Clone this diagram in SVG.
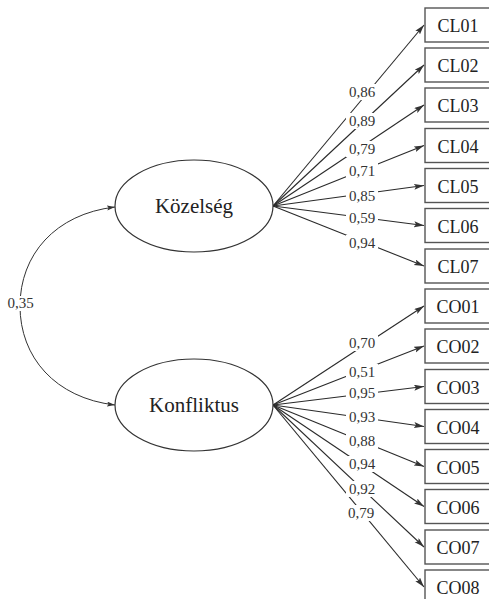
<svg xmlns="http://www.w3.org/2000/svg" width="489" height="599" viewBox="0 0 489 599">
<style>
  .box { fill: #ffffff; stroke: #555555; stroke-width: 1.4; }
  .boxtxt { font-family: "Liberation Serif", "Times New Roman", serif; font-size: 18px; fill: #222222; text-anchor: middle; }
  .lat { fill: #ffffff; stroke: #333333; stroke-width: 1.2; }
  .lattxt { font-family: "Liberation Serif", "Times New Roman", serif; font-size: 21px; fill: #222222; text-anchor: middle; }
  .path { fill: none; stroke: #2a2a2a; stroke-width: 1.1; marker-end: url(#arr); }
  .lblbg { fill: #ffffff; }
  .lbl { font-family: "Liberation Serif", "Times New Roman", serif; font-size: 15px; fill: #333333; text-anchor: middle; }
</style>
<defs>
  <marker id="arr" markerUnits="userSpaceOnUse" markerWidth="11" markerHeight="7" refX="10" refY="3" orient="auto">
    <path d="M0,0 L10,3 L0,6 L2,3 z" fill="#333333"/>
  </marker>
  <marker id="arrs" markerUnits="userSpaceOnUse" markerWidth="9" markerHeight="6" refX="8" refY="2.5" orient="auto-start-reverse">
    <path d="M0,0 L8,2.5 L0,5 L1.5,2.5 z" fill="#333333"/>
  </marker>
</defs>

<g id="connectors">
  <path d="M115,207 C55,214 20,255 20,306 C20,357 55,398 115,405" fill="none" stroke="#333333" stroke-width="1" marker-start="url(#arrs)" marker-end="url(#arrs)"/>
  <line class="path" x1="273" y1="206" x2="424" y2="25"/>
  <line class="path" x1="273" y1="206" x2="424" y2="65"/>
  <line class="path" x1="273" y1="206" x2="424" y2="105"/>
  <line class="path" x1="273" y1="206" x2="424" y2="145.5"/>
  <line class="path" x1="273" y1="206" x2="424" y2="185.5"/>
  <line class="path" x1="273" y1="206" x2="424" y2="225.5"/>
  <line class="path" x1="273" y1="206" x2="424" y2="266"/>
  <line class="path" x1="273" y1="405" x2="424" y2="306"/>
  <line class="path" x1="273" y1="405" x2="424" y2="346"/>
  <line class="path" x1="273" y1="405" x2="424" y2="386.5"/>
  <line class="path" x1="273" y1="405" x2="424" y2="426.5"/>
  <line class="path" x1="273" y1="405" x2="424" y2="466.5"/>
  <line class="path" x1="273" y1="405" x2="424" y2="506.5"/>
  <line class="path" x1="273" y1="405" x2="424" y2="547"/>
  <line class="path" x1="273" y1="405" x2="424" y2="587"/>

  <rect class="lblbg" x="6" y="296" width="30" height="15"/>
  <text class="lbl" x="20.5" y="308">0,35</text>

  <rect class="lblbg" x="346" y="84" width="32" height="16"/><text class="lbl" x="362" y="97">0,86</text>
  <rect class="lblbg" x="346" y="113" width="32" height="16"/><text class="lbl" x="362" y="126">0,89</text>
  <rect class="lblbg" x="346" y="141" width="32" height="16"/><text class="lbl" x="362" y="154">0,79</text>
  <rect class="lblbg" x="346" y="163" width="32" height="16"/><text class="lbl" x="362" y="176">0,71</text>
  <rect class="lblbg" x="346" y="188" width="32" height="16"/><text class="lbl" x="362" y="201">0,85</text>
  <rect class="lblbg" x="346" y="210" width="32" height="16"/><text class="lbl" x="362" y="223">0,59</text>
  <rect class="lblbg" x="346" y="235" width="32" height="16"/><text class="lbl" x="362" y="248">0,94</text>

  <rect class="lblbg" x="346" y="335" width="32" height="16"/><text class="lbl" x="362" y="348">0,70</text>
  <rect class="lblbg" x="346" y="364" width="32" height="16"/><text class="lbl" x="362" y="377">0,51</text>
  <rect class="lblbg" x="346" y="385" width="32" height="16"/><text class="lbl" x="362" y="398">0,95</text>
  <rect class="lblbg" x="346" y="409" width="32" height="16"/><text class="lbl" x="362" y="422">0,93</text>
  <rect class="lblbg" x="346" y="433" width="32" height="16"/><text class="lbl" x="362" y="446">0,88</text>
  <rect class="lblbg" x="346" y="456" width="32" height="16"/><text class="lbl" x="362" y="469">0,94</text>
  <rect class="lblbg" x="346" y="481" width="32" height="16"/><text class="lbl" x="362" y="494">0,92</text>
  <rect class="lblbg" x="345" y="505" width="32" height="16"/><text class="lbl" x="361" y="518">0,79</text>
</g>

<g id="kozelseg">
  <ellipse class="lat" cx="194" cy="206" rx="79" ry="46"/>
  <text class="lattxt" x="194" y="213">Közelség</text>
</g>
<g id="konfliktus">
  <ellipse class="lat" cx="194" cy="405" rx="79" ry="46"/>
  <text class="lattxt" x="194" y="412">Konfliktus</text>
</g>

<g id="CL01"><rect class="box" x="425" y="8" width="66" height="34"/><text class="boxtxt" x="458" y="32">CL01</text></g>
<g id="CL02"><rect class="box" x="425" y="48" width="66" height="34"/><text class="boxtxt" x="458" y="72">CL02</text></g>
<g id="CL03"><rect class="box" x="425" y="88" width="66" height="34"/><text class="boxtxt" x="458" y="112">CL03</text></g>
<g id="CL04"><rect class="box" x="425" y="128.5" width="66" height="34"/><text class="boxtxt" x="458" y="152.5">CL04</text></g>
<g id="CL05"><rect class="box" x="425" y="168.5" width="66" height="34"/><text class="boxtxt" x="458" y="192.5">CL05</text></g>
<g id="CL06"><rect class="box" x="425" y="208.5" width="66" height="34"/><text class="boxtxt" x="458" y="232.5">CL06</text></g>
<g id="CL07"><rect class="box" x="425" y="249" width="66" height="34"/><text class="boxtxt" x="458" y="273">CL07</text></g>
<g id="CO01"><rect class="box" x="425" y="289" width="66" height="34"/><text class="boxtxt" x="458" y="313">CO01</text></g>
<g id="CO02"><rect class="box" x="425" y="329" width="66" height="34"/><text class="boxtxt" x="458" y="353">CO02</text></g>
<g id="CO03"><rect class="box" x="425" y="369.5" width="66" height="34"/><text class="boxtxt" x="458" y="393.5">CO03</text></g>
<g id="CO04"><rect class="box" x="425" y="409.5" width="66" height="34"/><text class="boxtxt" x="458" y="433.5">CO04</text></g>
<g id="CO05"><rect class="box" x="425" y="449.5" width="66" height="34"/><text class="boxtxt" x="458" y="473.5">CO05</text></g>
<g id="CO06"><rect class="box" x="425" y="489.5" width="66" height="34"/><text class="boxtxt" x="458" y="513.5">CO06</text></g>
<g id="CO07"><rect class="box" x="425" y="530" width="66" height="34"/><text class="boxtxt" x="458" y="554">CO07</text></g>
<g id="CO08"><rect class="box" x="425" y="570" width="66" height="34"/><text class="boxtxt" x="458" y="594">CO08</text></g>
</svg>
